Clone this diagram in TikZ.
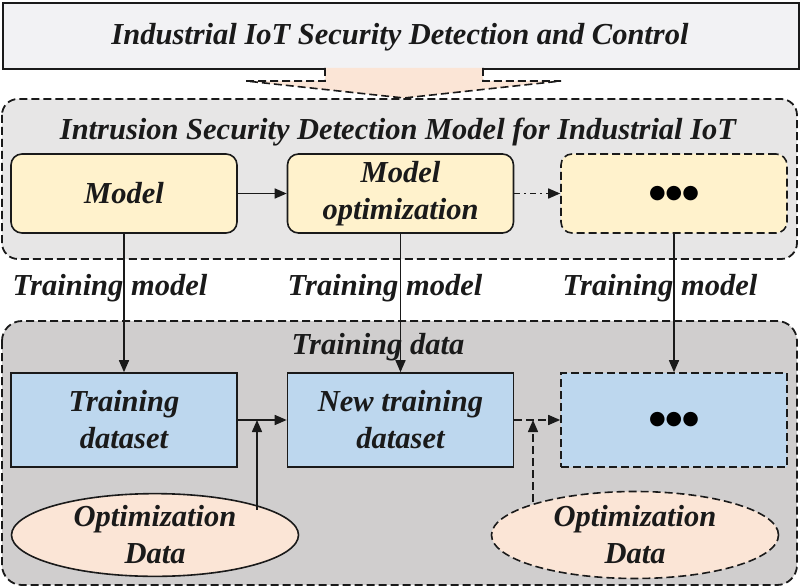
\documentclass[tikz,border=0pt]{standalone}
\usepackage{fontspec}
\setmainfont{Liberation Serif}
\newfontfamily\dotsfont{DejaVu Sans}
\usetikzlibrary{arrows.meta,shapes.geometric}
\definecolor{topfill}{HTML}{F2F2F4}
\definecolor{peach}{HTML}{FBE5D6}
\definecolor{lgray}{HTML}{E7E6E6}
\definecolor{dgray}{HTML}{D0CECE}
\definecolor{yel}{HTML}{FFF2CC}
\definecolor{blu}{HTML}{BDD7EE}
\definecolor{ink}{HTML}{1A1A1A}
\tikzset{
  txt/.style={font=\fontsize{30.5}{37}\selectfont\bfseries\itshape, text=ink, align=center},
  dsh/.style={dash pattern=on 8pt off 4pt},
  ybox/.style={draw=ink, line width=1.6pt, fill=yel, rounded corners=11pt, minimum width=226pt, minimum height=79pt, txt},
  bbox/.style={draw=ink, line width=1.6pt, fill=blu, minimum width=226pt, minimum height=94pt, txt},
  oval/.style={ellipse, draw=ink, line width=1.6pt, fill=peach, minimum width=287pt, txt, inner sep=0pt},
  arr/.style={-{Triangle[length=12pt,width=10pt]}, line width=1.5pt, draw=ink},
  dots/.style={font=\dotsfont\fontsize{19}{19}\selectfont, text=black}
}
\begin{document}
\begin{tikzpicture}[x=1pt,y=-1pt]
\useasboundingbox (0,0) rectangle (800,588);
% top box
\node[draw=ink, line width=1.8pt, fill=topfill, minimum width=796pt, minimum height=66pt, anchor=north west] (top) at (2,2) {};
\node[txt, anchor=base] (toptxt) at (400,45) {Industrial IoT Security Detection and Control};
% big dashed arrow
\fill[peach] (325,68) -- (325,81) -- (246,81) -- (404,98) -- (561,81) -- (483,81) -- (483,68) -- cycle;
\draw[ink, line width=1.6pt, dsh] (325,68) -- (325,81) -- (246,81) -- (404,98) -- (561,81) -- (483,81) -- (483,68);
% container 1
\draw[ink, line width=1.8pt, dsh, fill=lgray, rounded corners=16pt] (2,99) rectangle (797,259);
\node[txt, anchor=base] (c1title) at (398,140) {Intrusion Security Detection Model for Industrial IoT};
% container 2
\draw[ink, line width=1.8pt, dsh, fill=dgray, rounded corners=20pt] (2,321) rectangle (797,585);
\node[txt, anchor=base] (c2title) at (378,354) {Training data};
% yellow boxes
\node[ybox] (model) at (124,193.5) {Model};
\node[ybox] (mopt) at (400.5,193.5) {Model\\optimization};
\node[ybox, dsh] (ydots) at (674,193.5) {};
\node[dots] (ydt) at (ydots) {●●●};
% blue boxes
\node[bbox] (tds) at (124,420) {Training\\dataset};
\node[bbox] (ntds) at (400.5,420) {New training\\dataset};
\node[bbox, dsh] (bdots) at (674,420) {};
\node[dots] (bdt) at (bdots) {●●●};
% ellipses
\node[oval, minimum height=73pt] (e1) at (155,535) {Optimization\\Data};
\node[oval, dsh, minimum height=87pt] (e2) at (635,535) {Optimization\\Data};
% labels
\node[txt, anchor=base] (l1) at (110,295) {Training model};
\node[txt, anchor=base] (l2) at (385,295) {Training model};
\node[txt, anchor=base] (l3) at (660,295) {Training model};
% top arrows
\draw[arr] (model.east) -- (mopt.west);
\draw[arr, dash pattern=on 6pt off 4pt on 2pt off 4pt] (mopt.east) -- (ydots.west);
% vertical arrows
\draw[arr] (model.south) -- (tds.north);
\draw[arr] (mopt.south) -- (ntds.north);
\draw[arr] (ydots.south) -- (bdots.north);
% bottom arrows
\draw[arr] (tds.east) -- (ntds.west);
\draw[arr, dsh] (ntds.east) -- (bdots.west);
\coordinate (j1) at (257,420);
\coordinate (e1top) at (257,509.5);
\coordinate (j2) at (533,420);
\coordinate (e2top) at (533,502);
\draw[arr] (e1top) -- (j1);
\draw[arr, dsh] (e2top) -- (j2);
\end{tikzpicture}
\end{document}
